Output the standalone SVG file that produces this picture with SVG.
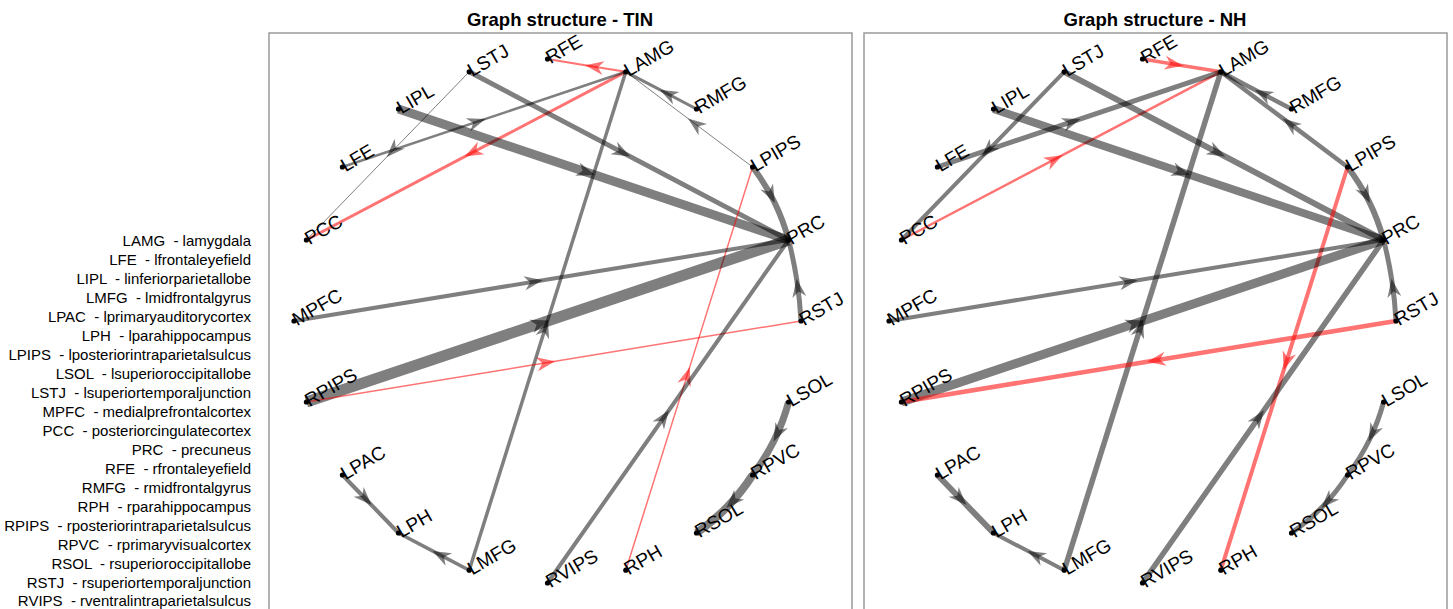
<svg xmlns="http://www.w3.org/2000/svg" width="1453" height="609" viewBox="0 0 1453 609">
<style>
.title{font-family:"Liberation Sans",Arial,sans-serif;font-weight:bold;font-size:18.5px;fill:#000;text-anchor:middle}
.leg{font-family:"Liberation Sans",Arial,sans-serif;font-size:15px;fill:#000;text-anchor:end;white-space:pre}
.lbl{font-family:"Liberation Sans",Arial,sans-serif;font-size:19px;fill:#000}
.panel{fill:#fff;stroke:#9a9a9a;stroke-width:1.5}
.g{fill:none;stroke:#000;stroke-opacity:0.5;marker-mid:url(#aG)}
.r{fill:none;stroke:#ff0000;stroke-opacity:0.55;marker-mid:url(#aR)}
.dot{fill:#000}
</style>
<defs>
<marker id="aG" viewBox="-19 -8 21 16" markerWidth="21" markerHeight="16" refX="0" refY="0" orient="auto" markerUnits="userSpaceOnUse"><path d="M1.5,0 L-17,-7 L-11.5,0 L-17,7 Z" fill="#000" fill-opacity="0.5"/></marker>
<marker id="aR" viewBox="-19 -8 21 16" markerWidth="21" markerHeight="16" refX="0" refY="0" orient="auto" markerUnits="userSpaceOnUse"><path d="M1.5,0 L-17,-7 L-11.5,0 L-17,7 Z" fill="#ff0000" fill-opacity="0.55"/></marker>
</defs>
<rect width="1453" height="609" fill="#fff"/>

<g id="legend">
<text class="leg" x="251" y="246" xml:space="preserve">LAMG  - lamygdala</text>
<text class="leg" x="251" y="265" xml:space="preserve">LFE  - lfrontaleyefield</text>
<text class="leg" x="251" y="284" xml:space="preserve">LIPL  - linferiorparietallobe</text>
<text class="leg" x="251" y="303" xml:space="preserve">LMFG  - lmidfrontalgyrus</text>
<text class="leg" x="251" y="322" xml:space="preserve">LPAC  - lprimaryauditorycortex</text>
<text class="leg" x="251" y="341" xml:space="preserve">LPH  - lparahippocampus</text>
<text class="leg" x="251" y="360" xml:space="preserve">LPIPS  - lposteriorintraparietalsulcus</text>
<text class="leg" x="251" y="379" xml:space="preserve">LSOL  - lsuperioroccipitallobe</text>
<text class="leg" x="251" y="398" xml:space="preserve">LSTJ  - lsuperiortemporaljunction</text>
<text class="leg" x="251" y="417" xml:space="preserve">MPFC  - medialprefrontalcortex</text>
<text class="leg" x="251" y="436" xml:space="preserve">PCC  - posteriorcingulatecortex</text>
<text class="leg" x="251" y="455" xml:space="preserve">PRC  - precuneus</text>
<text class="leg" x="251" y="474" xml:space="preserve">RFE  - rfrontaleyefield</text>
<text class="leg" x="251" y="493" xml:space="preserve">RMFG  - rmidfrontalgyrus</text>
<text class="leg" x="251" y="512" xml:space="preserve">RPH  - rparahippocampus</text>
<text class="leg" x="251" y="531" xml:space="preserve">RPIPS  - rposteriorintraparietalsulcus</text>
<text class="leg" x="251" y="550" xml:space="preserve">RPVC  - rprimaryvisualcortex</text>
<text class="leg" x="251" y="569" xml:space="preserve">RSOL  - rsuperioroccipitallobe</text>
<text class="leg" x="251" y="588" xml:space="preserve">RSTJ  - rsuperiortemporaljunction</text>
<text class="leg" x="251" y="606" xml:space="preserve">RVIPS  - rventralintraparietalsulcus</text>
</g>

<g id="panel-tin">
<rect class="panel" x="269" y="33" width="583" height="580"/>
<text class="title" x="560" y="26">Graph structure - TIN</text>
</g>
<g id="panel-nh">
<rect class="panel" x="864" y="33" width="583" height="580"/>
<text class="title" x="1155" y="26">Graph structure - NH</text>
</g>

<g id="connectors-tin">
<path class="r" stroke-width="2" d="M625.8,71.8 L586.65,65.4 L547.5,59"/>
<path class="r" stroke-width="3" d="M625.8,71.8 L466.1,155.9 L306.4,240"/>
<path class="g" stroke-width="2.5" d="M342.4,167 L484.1,119.4 L625.8,71.8"/>
<path class="g" stroke-width="1" d="M469.2,71.8 L387.8,155.9 L306.4,240"/>
<path class="g" stroke-width="9" d="M398.5,109 L593.55,174.5 L788.6,240"/>
<path class="g" stroke-width="5" d="M469.2,71.8 L628.9,155.9 L788.6,240"/>
<path class="g" stroke-width="3.5" d="M469.2,570.2 L547.5,321 L625.8,71.8"/>
<path class="g" stroke-width="3" d="M696.5,109 L661.15,90.4 L625.8,71.8"/>
<path class="g" stroke-width="1" d="M752.6,167 L689.2,119.4 L625.8,71.8"/>
<path class="g" stroke-width="6" d="M752.6,167 Q765.2,183.5 774.2,201.75 Q783.2,220 788.6,240"/>
<path class="r" stroke-width="1.5" d="M625.8,570.2 L689.2,368.6 L752.6,167"/>
<path class="g" stroke-width="4" d="M294,321 L541.3,280.5 L788.6,240"/>
<path class="g" stroke-width="11" d="M306.4,402 L547.5,321 L788.6,240"/>
<path class="r" stroke-width="1.5" d="M306.4,402 L553.7,361.5 L801,321"/>
<path class="g" stroke-width="5" d="M801,321 Q799.9,300.45 796.8,280.2 Q793.7,259.95 788.6,240"/>
<path class="g" stroke-width="4" d="M547.5,583 L668.05,411.5 L788.6,240"/>
<path class="g" stroke-width="7" d="M788.6,402 Q783.2,422 774.2,440.25 Q765.2,458.5 752.6,475"/>
<path class="g" stroke-width="8" d="M752.6,475 Q741.45,492.3 727.4,506.8 Q713.4,521.3 696.5,533"/>
<path class="g" stroke-width="4" d="M342.4,475 L370.45,504 L398.5,533"/>
<path class="g" stroke-width="3.5" d="M469.2,570.2 L433.85,551.6 L398.5,533"/>
</g>

<g id="connectors-nh">
<path class="r" stroke-width="3.5" d="M1142.5,59 L1181.65,65.4 L1220.8,71.8"/>
<path class="r" stroke-width="2.5" d="M901.4,240 L1061.1,155.9 L1220.8,71.8"/>
<path class="g" stroke-width="5" d="M937.4,167 L1079.1,119.4 L1220.8,71.8"/>
<path class="g" stroke-width="4" d="M1064.2,71.8 L982.8,155.9 L901.4,240"/>
<path class="g" stroke-width="8" d="M993.5,109 L1188.55,174.5 L1383.6,240"/>
<path class="g" stroke-width="6" d="M1064.2,71.8 L1223.9,155.9 L1383.6,240"/>
<path class="g" stroke-width="5.5" d="M1064.2,570.2 L1142.5,321 L1220.8,71.8"/>
<path class="g" stroke-width="4.5" d="M1291.5,109 L1256.15,90.4 L1220.8,71.8"/>
<path class="g" stroke-width="4.5" d="M1347.6,167 L1284.2,119.4 L1220.8,71.8"/>
<path class="g" stroke-width="6" d="M1347.6,167 Q1360.2,183.5 1369.2,201.75 Q1378.2,220 1383.6,240"/>
<path class="r" stroke-width="4" d="M1347.6,167 L1284.2,368.6 L1220.8,570.2"/>
<path class="g" stroke-width="4" d="M889,321 L1136.3,280.5 L1383.6,240"/>
<path class="g" stroke-width="9" d="M901.4,402 L1142.5,321 L1383.6,240"/>
<path class="r" stroke-width="4.5" d="M1396,321 L1148.7,361.5 L901.4,402"/>
<path class="g" stroke-width="5" d="M1396,321 Q1394.9,300.45 1391.8,280.2 Q1388.7,259.95 1383.6,240"/>
<path class="g" stroke-width="5.5" d="M1142.5,583 L1263.05,411.5 L1383.6,240"/>
<path class="g" stroke-width="5" d="M1383.6,402 Q1378.2,422 1369.2,440.25 Q1360.2,458.5 1347.6,475"/>
<path class="g" stroke-width="5" d="M1347.6,475 Q1336.45,492.3 1322.4,506.8 Q1308.4,521.3 1291.5,533"/>
<path class="g" stroke-width="6" d="M937.4,475 L965.45,504 L993.5,533"/>
<path class="g" stroke-width="4" d="M1064.2,570.2 L1028.85,551.6 L993.5,533"/>
</g>

<g id="nodes-tin">
<g id="tin-RFE"><circle class="dot" cx="547.5" cy="59" r="2.6"/><text class="lbl" x="547.5" y="59" dy="6" transform="rotate(-30 547.5 59)">RFE</text></g>
<g id="tin-LAMG"><circle class="dot" cx="625.8" cy="71.8" r="2.6"/><text class="lbl" x="625.8" y="71.8" dy="6" transform="rotate(-30 625.8 71.8)">LAMG</text></g>
<g id="tin-RMFG"><circle class="dot" cx="696.5" cy="109" r="2.6"/><text class="lbl" x="696.5" y="109" dy="6" transform="rotate(-30 696.5 109)">RMFG</text></g>
<g id="tin-LPIPS"><circle class="dot" cx="752.6" cy="167" r="2.6"/><text class="lbl" x="752.6" y="167" dy="6" transform="rotate(-30 752.6 167)">LPIPS</text></g>
<g id="tin-PRC"><circle class="dot" cx="788.6" cy="240" r="2.6"/><text class="lbl" x="788.6" y="240" dy="6" transform="rotate(-30 788.6 240)">PRC</text></g>
<g id="tin-RSTJ"><circle class="dot" cx="801" cy="321" r="2.6"/><text class="lbl" x="801" y="321" dy="6" transform="rotate(-30 801 321)">RSTJ</text></g>
<g id="tin-LSOL"><circle class="dot" cx="788.6" cy="402" r="2.6"/><text class="lbl" x="788.6" y="402" dy="6" transform="rotate(-30 788.6 402)">LSOL</text></g>
<g id="tin-RPVC"><circle class="dot" cx="752.6" cy="475" r="2.6"/><text class="lbl" x="752.6" y="475" dy="6" transform="rotate(-30 752.6 475)">RPVC</text></g>
<g id="tin-RSOL"><circle class="dot" cx="696.5" cy="533" r="2.6"/><text class="lbl" x="696.5" y="533" dy="6" transform="rotate(-30 696.5 533)">RSOL</text></g>
<g id="tin-RPH"><circle class="dot" cx="625.8" cy="570.2" r="2.6"/><text class="lbl" x="625.8" y="570.2" dy="6" transform="rotate(-30 625.8 570.2)">RPH</text></g>
<g id="tin-RVIPS"><circle class="dot" cx="547.5" cy="583" r="2.6"/><text class="lbl" x="547.5" y="583" dy="6" transform="rotate(-30 547.5 583)">RVIPS</text></g>
<g id="tin-LMFG"><circle class="dot" cx="469.2" cy="570.2" r="2.6"/><text class="lbl" x="469.2" y="570.2" dy="6" transform="rotate(-30 469.2 570.2)">LMFG</text></g>
<g id="tin-LPH"><circle class="dot" cx="398.5" cy="533" r="2.6"/><text class="lbl" x="398.5" y="533" dy="6" transform="rotate(-30 398.5 533)">LPH</text></g>
<g id="tin-LPAC"><circle class="dot" cx="342.4" cy="475" r="2.6"/><text class="lbl" x="342.4" y="475" dy="6" transform="rotate(-30 342.4 475)">LPAC</text></g>
<g id="tin-RPIPS"><circle class="dot" cx="306.4" cy="402" r="2.6"/><text class="lbl" x="306.4" y="402" dy="6" transform="rotate(-30 306.4 402)">RPIPS</text></g>
<g id="tin-MPFC"><circle class="dot" cx="294" cy="321" r="2.6"/><text class="lbl" x="294" y="321" dy="6" transform="rotate(-30 294 321)">MPFC</text></g>
<g id="tin-PCC"><circle class="dot" cx="306.4" cy="240" r="2.6"/><text class="lbl" x="306.4" y="240" dy="6" transform="rotate(-30 306.4 240)">PCC</text></g>
<g id="tin-LFE"><circle class="dot" cx="342.4" cy="167" r="2.6"/><text class="lbl" x="342.4" y="167" dy="6" transform="rotate(-30 342.4 167)">LFE</text></g>
<g id="tin-LIPL"><circle class="dot" cx="398.5" cy="109" r="2.6"/><text class="lbl" x="398.5" y="109" dy="6" transform="rotate(-30 398.5 109)">LIPL</text></g>
<g id="tin-LSTJ"><circle class="dot" cx="469.2" cy="71.8" r="2.6"/><text class="lbl" x="469.2" y="71.8" dy="6" transform="rotate(-30 469.2 71.8)">LSTJ</text></g>
</g>

<g id="nodes-nh">
<g id="nh-RFE"><circle class="dot" cx="1142.5" cy="59" r="2.6"/><text class="lbl" x="1142.5" y="59" dy="6" transform="rotate(-30 1142.5 59)">RFE</text></g>
<g id="nh-LAMG"><circle class="dot" cx="1220.8" cy="71.8" r="2.6"/><text class="lbl" x="1220.8" y="71.8" dy="6" transform="rotate(-30 1220.8 71.8)">LAMG</text></g>
<g id="nh-RMFG"><circle class="dot" cx="1291.5" cy="109" r="2.6"/><text class="lbl" x="1291.5" y="109" dy="6" transform="rotate(-30 1291.5 109)">RMFG</text></g>
<g id="nh-LPIPS"><circle class="dot" cx="1347.6" cy="167" r="2.6"/><text class="lbl" x="1347.6" y="167" dy="6" transform="rotate(-30 1347.6 167)">LPIPS</text></g>
<g id="nh-PRC"><circle class="dot" cx="1383.6" cy="240" r="2.6"/><text class="lbl" x="1383.6" y="240" dy="6" transform="rotate(-30 1383.6 240)">PRC</text></g>
<g id="nh-RSTJ"><circle class="dot" cx="1396" cy="321" r="2.6"/><text class="lbl" x="1396" y="321" dy="6" transform="rotate(-30 1396 321)">RSTJ</text></g>
<g id="nh-LSOL"><circle class="dot" cx="1383.6" cy="402" r="2.6"/><text class="lbl" x="1383.6" y="402" dy="6" transform="rotate(-30 1383.6 402)">LSOL</text></g>
<g id="nh-RPVC"><circle class="dot" cx="1347.6" cy="475" r="2.6"/><text class="lbl" x="1347.6" y="475" dy="6" transform="rotate(-30 1347.6 475)">RPVC</text></g>
<g id="nh-RSOL"><circle class="dot" cx="1291.5" cy="533" r="2.6"/><text class="lbl" x="1291.5" y="533" dy="6" transform="rotate(-30 1291.5 533)">RSOL</text></g>
<g id="nh-RPH"><circle class="dot" cx="1220.8" cy="570.2" r="2.6"/><text class="lbl" x="1220.8" y="570.2" dy="6" transform="rotate(-30 1220.8 570.2)">RPH</text></g>
<g id="nh-RVIPS"><circle class="dot" cx="1142.5" cy="583" r="2.6"/><text class="lbl" x="1142.5" y="583" dy="6" transform="rotate(-30 1142.5 583)">RVIPS</text></g>
<g id="nh-LMFG"><circle class="dot" cx="1064.2" cy="570.2" r="2.6"/><text class="lbl" x="1064.2" y="570.2" dy="6" transform="rotate(-30 1064.2 570.2)">LMFG</text></g>
<g id="nh-LPH"><circle class="dot" cx="993.5" cy="533" r="2.6"/><text class="lbl" x="993.5" y="533" dy="6" transform="rotate(-30 993.5 533)">LPH</text></g>
<g id="nh-LPAC"><circle class="dot" cx="937.4" cy="475" r="2.6"/><text class="lbl" x="937.4" y="475" dy="6" transform="rotate(-30 937.4 475)">LPAC</text></g>
<g id="nh-RPIPS"><circle class="dot" cx="901.4" cy="402" r="2.6"/><text class="lbl" x="901.4" y="402" dy="6" transform="rotate(-30 901.4 402)">RPIPS</text></g>
<g id="nh-MPFC"><circle class="dot" cx="889" cy="321" r="2.6"/><text class="lbl" x="889" y="321" dy="6" transform="rotate(-30 889 321)">MPFC</text></g>
<g id="nh-PCC"><circle class="dot" cx="901.4" cy="240" r="2.6"/><text class="lbl" x="901.4" y="240" dy="6" transform="rotate(-30 901.4 240)">PCC</text></g>
<g id="nh-LFE"><circle class="dot" cx="937.4" cy="167" r="2.6"/><text class="lbl" x="937.4" y="167" dy="6" transform="rotate(-30 937.4 167)">LFE</text></g>
<g id="nh-LIPL"><circle class="dot" cx="993.5" cy="109" r="2.6"/><text class="lbl" x="993.5" y="109" dy="6" transform="rotate(-30 993.5 109)">LIPL</text></g>
<g id="nh-LSTJ"><circle class="dot" cx="1064.2" cy="71.8" r="2.6"/><text class="lbl" x="1064.2" y="71.8" dy="6" transform="rotate(-30 1064.2 71.8)">LSTJ</text></g>
</g>
</svg>
